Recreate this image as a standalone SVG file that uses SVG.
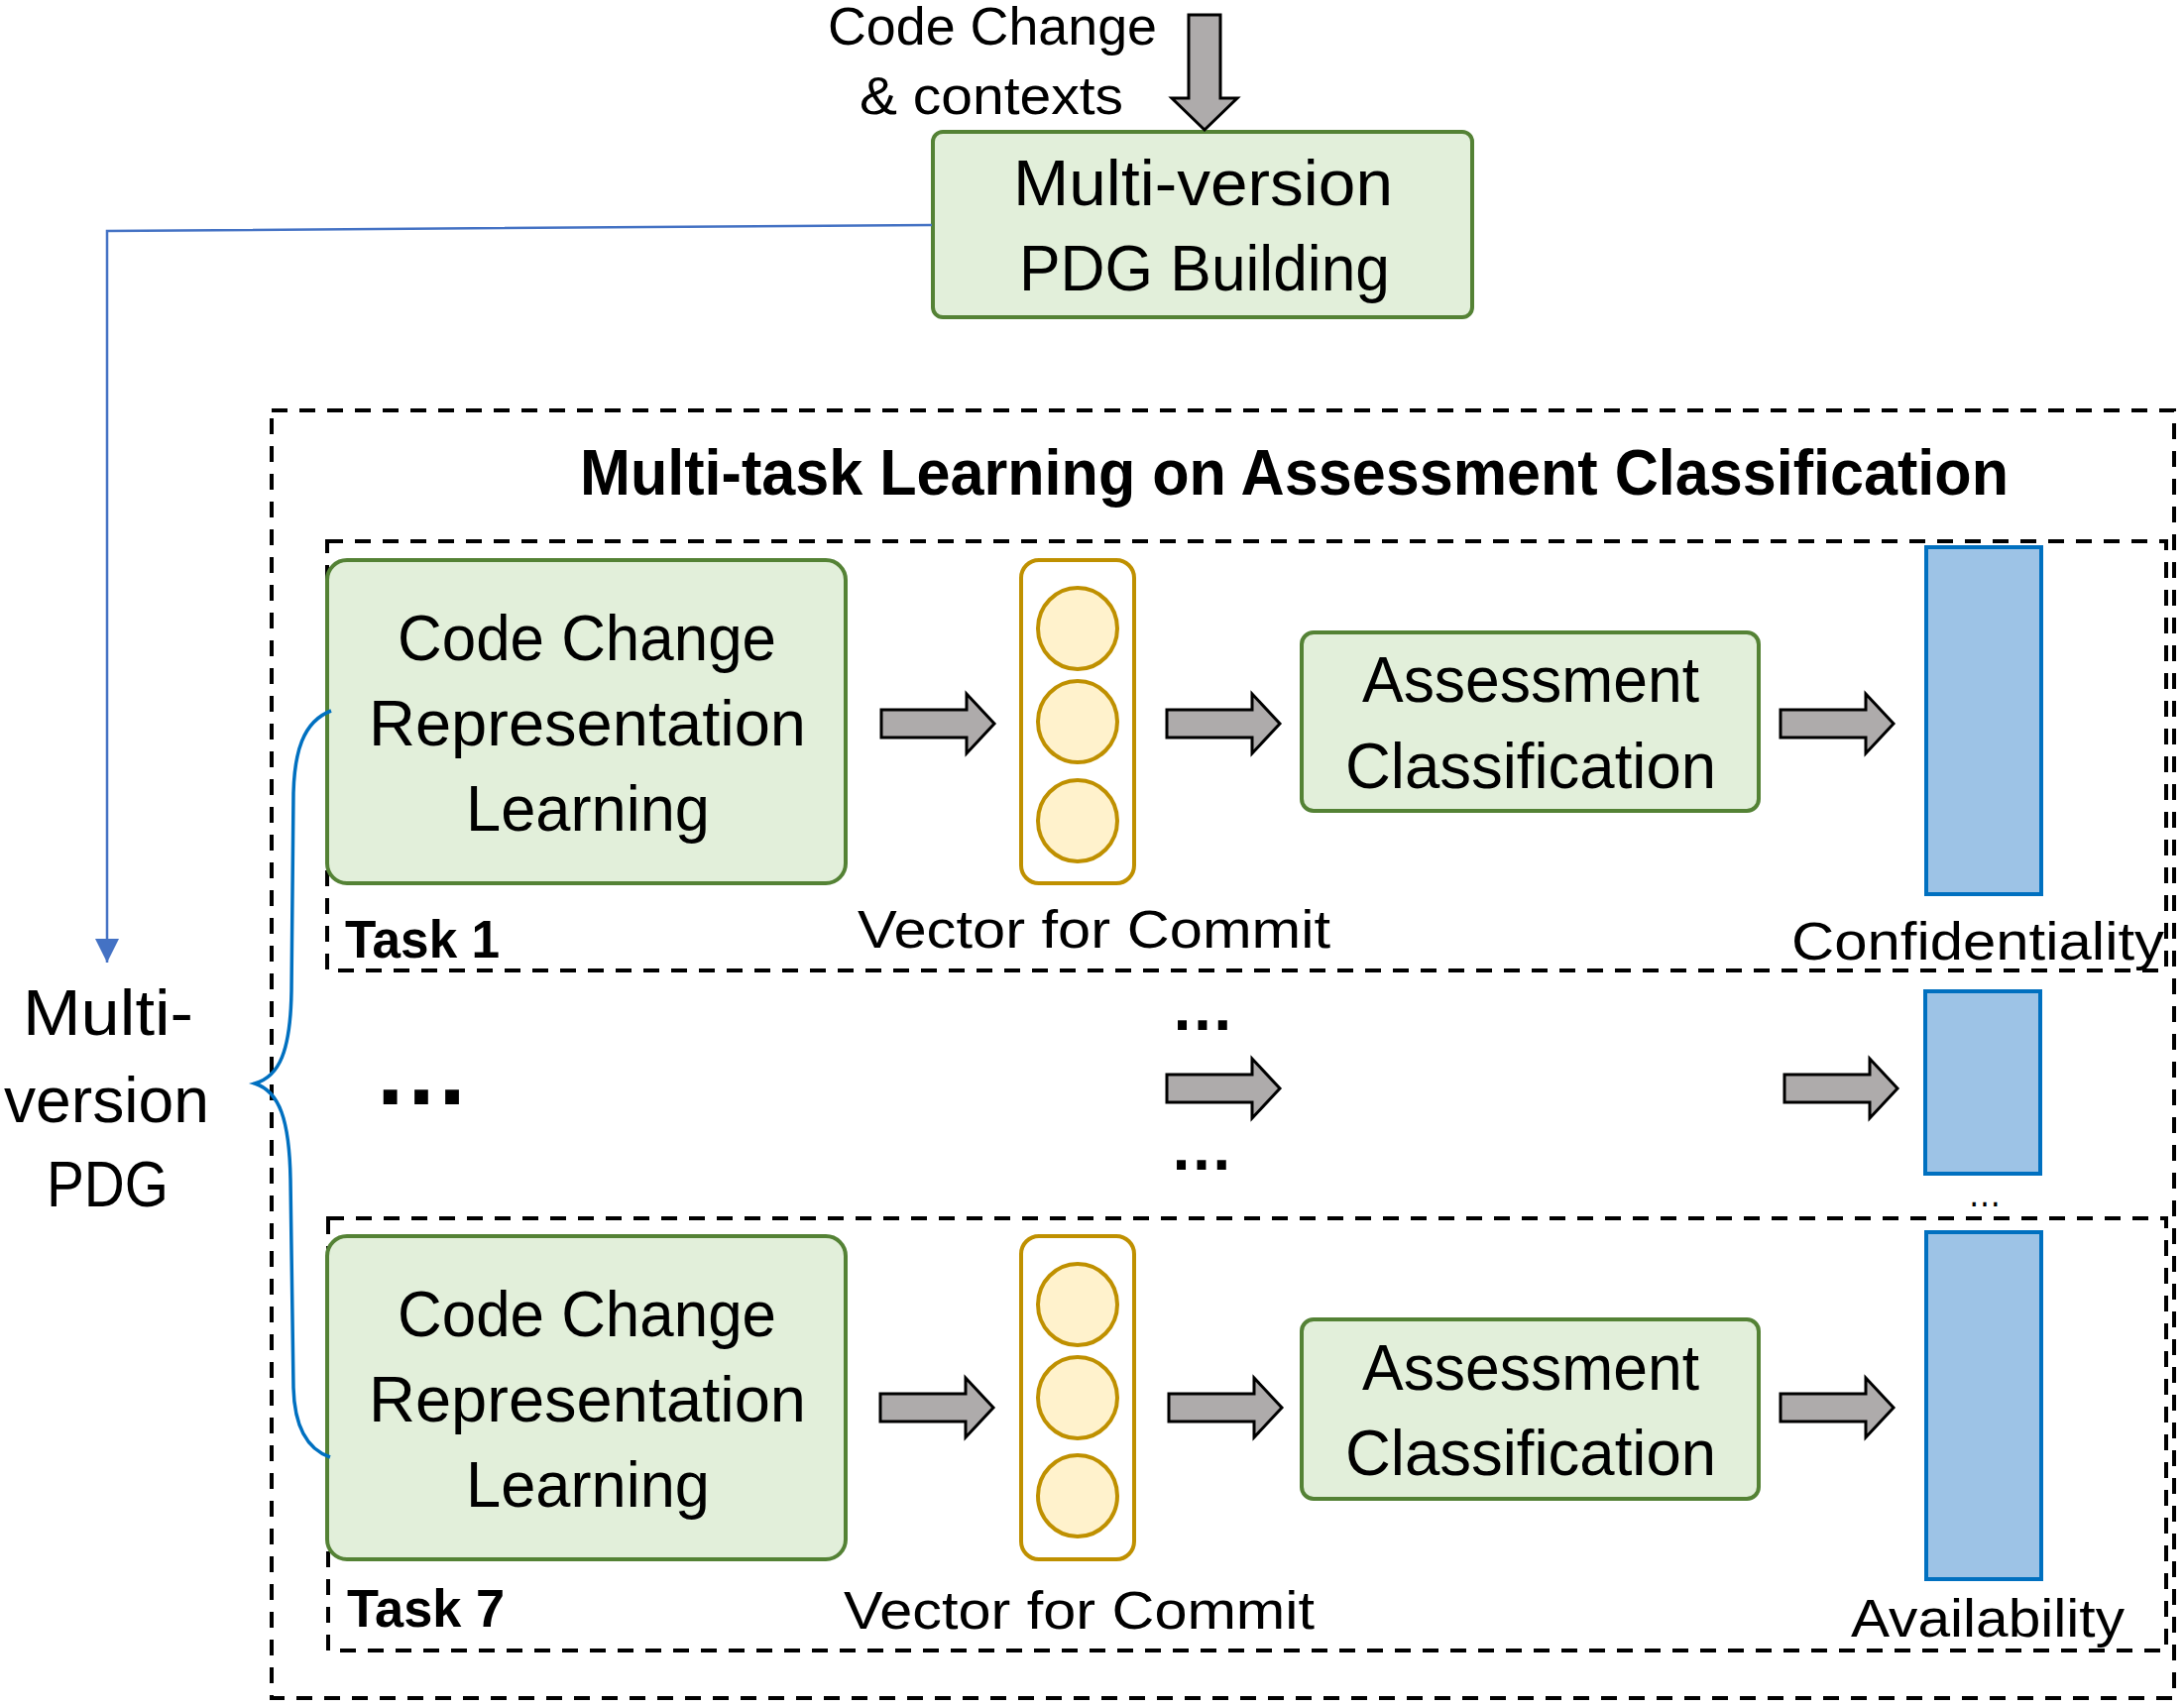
<svg xmlns="http://www.w3.org/2000/svg" width="2203" height="1722" viewBox="0 0 2203 1722">
<style>
text{font-family:"Liberation Sans",Arial,sans-serif;fill:#000}
.t64{font-size:64px;text-anchor:start}
.t54{font-size:54px}
.t46{font-size:53px}
.b{font-weight:bold}
.green{fill:#E2EFDA;stroke:#548235;stroke-width:4}
.vec{fill:#FFFFFF;stroke:#BF9000;stroke-width:4}
.neuron{fill:#FFF2CC;stroke:#BF9000;stroke-width:4}
.bar{fill:#9DC3E6;stroke:#0070C0;stroke-width:4}
.dash{fill:none;stroke:#000;stroke-width:4;stroke-dasharray:16 12}
.blk{fill:#AEABAB;stroke:#000;stroke-width:3;stroke-linejoin:miter}
.conn{fill:none;stroke:#4472C4;stroke-width:2.5}
.brace{fill:none;stroke:#0070C0;stroke-width:3.5}
</style>
<defs>
<path id="rarrow" d="M0 -14 H86 V-30 L114 0 L86 30 V14 H0 Z"/>
<marker id="ah" viewBox="0 0 24 24" refX="24" refY="12" markerWidth="24" markerHeight="24" markerUnits="userSpaceOnUse" orient="auto">
<path d="M0 0 L24 12 L0 24 Z" fill="#4472C4"/>
</marker>
</defs>
<rect width="2203" height="1722" fill="#FFFFFF"/>

<g id="input-label">
<text class="t46" x="835" y="45" textLength="332" lengthAdjust="spacingAndGlyphs">Code Change</text>
<text class="t46" x="867" y="115" textLength="266" lengthAdjust="spacingAndGlyphs">&amp; contexts</text>
</g>

<g id="pdg-building">
<rect class="green" x="941" y="133" width="544" height="187" rx="10"/>
<text class="t64" x="1022" y="207" textLength="383" lengthAdjust="spacingAndGlyphs">Multi-version</text>
<text class="t64" x="1028" y="293" textLength="374" lengthAdjust="spacingAndGlyphs">PDG Building</text>
</g>

<g id="pdg-label">
<text class="t64" x="23" y="1044" textLength="172" lengthAdjust="spacingAndGlyphs">Multi-</text>
<text class="t64" x="4" y="1132" textLength="207" lengthAdjust="spacingAndGlyphs">version</text>
<text class="t64" x="47" y="1217" textLength="123" lengthAdjust="spacingAndGlyphs">PDG</text>
</g>

<g id="multitask-frame">
<rect class="dash" x="274" y="414" width="1919" height="1299"/>
<text class="t64 b" x="585" y="499" textLength="1441" lengthAdjust="spacingAndGlyphs">Multi-task Learning on Assessment Classification</text>
</g>

<g id="task1">
<rect class="dash" x="330" y="546" width="1855" height="433"/>
<text class="t54 b" x="348" y="966" textLength="156" lengthAdjust="spacingAndGlyphs">Task 1</text>
</g>

<g id="task1-ccrl">
<rect class="green" x="330" y="565" width="523" height="326" rx="20"/>
<text class="t64" x="401" y="666" textLength="382" lengthAdjust="spacingAndGlyphs">Code Change</text>
<text class="t64" x="372" y="752" textLength="441" lengthAdjust="spacingAndGlyphs">Representation</text>
<text class="t64" x="470" y="838" textLength="246" lengthAdjust="spacingAndGlyphs">Learning</text>
</g>

<g id="task1-vector">
<rect class="vec" x="1030" y="565" width="114" height="326" rx="18"/>
<ellipse class="neuron" cx="1087" cy="634" rx="40" ry="41"/>
<ellipse class="neuron" cx="1087" cy="728" rx="40" ry="41"/>
<ellipse class="neuron" cx="1087" cy="828" rx="40" ry="41"/>
<text class="t54" x="865" y="956" textLength="477" lengthAdjust="spacingAndGlyphs">Vector for Commit</text>
</g>

<g id="task1-classify">
<rect class="green" x="1313" y="638" width="461" height="180" rx="12"/>
<text class="t64" x="1374" y="708" textLength="340" lengthAdjust="spacingAndGlyphs">Assessment</text>
<text class="t64" x="1357" y="795" textLength="374" lengthAdjust="spacingAndGlyphs">Classification</text>
</g>

<g id="task1-output">
<rect class="bar" x="1943" y="552" width="116" height="350"/>
<text class="t54" x="1807" y="968" textLength="376" lengthAdjust="spacingAndGlyphs">Confidentiality</text>
</g>

<g id="middle-tasks">
<text class="b" style="font-size:98px" x="376" y="1114">…</text>
<text class="b" style="font-size:64px" x="1181" y="1039">…</text>
<text class="b" style="font-size:64px" x="1180" y="1180">…</text>
<rect class="bar" x="1942" y="1000" width="116" height="184"/>
<text style="font-size:40px" x="1985" y="1217" textLength="34" lengthAdjust="spacingAndGlyphs">…</text>
</g>

<g id="task7">
<rect class="dash" x="331" y="1229" width="1854" height="436"/>
<text class="t54 b" x="350" y="1641" textLength="159" lengthAdjust="spacingAndGlyphs">Task 7</text>
</g>

<g id="task7-ccrl">
<rect class="green" x="330" y="1247" width="523" height="326" rx="20"/>
<text class="t64" x="401" y="1348" textLength="382" lengthAdjust="spacingAndGlyphs">Code Change</text>
<text class="t64" x="372" y="1434" textLength="441" lengthAdjust="spacingAndGlyphs">Representation</text>
<text class="t64" x="470" y="1520" textLength="246" lengthAdjust="spacingAndGlyphs">Learning</text>
</g>

<g id="task7-vector">
<rect class="vec" x="1030" y="1247" width="114" height="326" rx="18"/>
<ellipse class="neuron" cx="1087" cy="1316" rx="40" ry="41"/>
<ellipse class="neuron" cx="1087" cy="1410" rx="40" ry="41"/>
<ellipse class="neuron" cx="1087" cy="1509" rx="40" ry="41"/>
<text class="t54" x="851" y="1643" textLength="475" lengthAdjust="spacingAndGlyphs">Vector for Commit</text>
</g>

<g id="task7-classify">
<rect class="green" x="1313" y="1331" width="461" height="181" rx="12"/>
<text class="t64" x="1374" y="1402" textLength="340" lengthAdjust="spacingAndGlyphs">Assessment</text>
<text class="t64" x="1357" y="1488" textLength="374" lengthAdjust="spacingAndGlyphs">Classification</text>
</g>

<g id="task7-output">
<rect class="bar" x="1943" y="1243" width="116" height="350"/>
<text class="t54" x="1867" y="1651" textLength="276" lengthAdjust="spacingAndGlyphs">Availability</text>
</g>

<g id="connectors">
<path class="blk" d="M1199 15 H1231 V99 H1248 L1215 131 L1182 99 H1199 Z"/>
<path class="conn" d="M940 227 L108 233 L108 971" marker-end="url(#ah)"/>
<path class="brace" d="M334 717 C305 728 297 760 296 800 L294 1000 C293 1060 282 1086 257 1093 C282 1101 292 1130 293 1190 L296 1400 C297 1440 310 1462 333 1470"/>
<use href="#rarrow" class="blk" x="889" y="730"/>
<use href="#rarrow" class="blk" x="1177" y="730"/>
<use href="#rarrow" class="blk" x="1796" y="730"/>
<use href="#rarrow" class="blk" x="1177" y="1098"/>
<use href="#rarrow" class="blk" x="1800" y="1098"/>
<use href="#rarrow" class="blk" x="888" y="1420"/>
<use href="#rarrow" class="blk" x="1179" y="1420"/>
<use href="#rarrow" class="blk" x="1796" y="1420"/>
</g>
</svg>
